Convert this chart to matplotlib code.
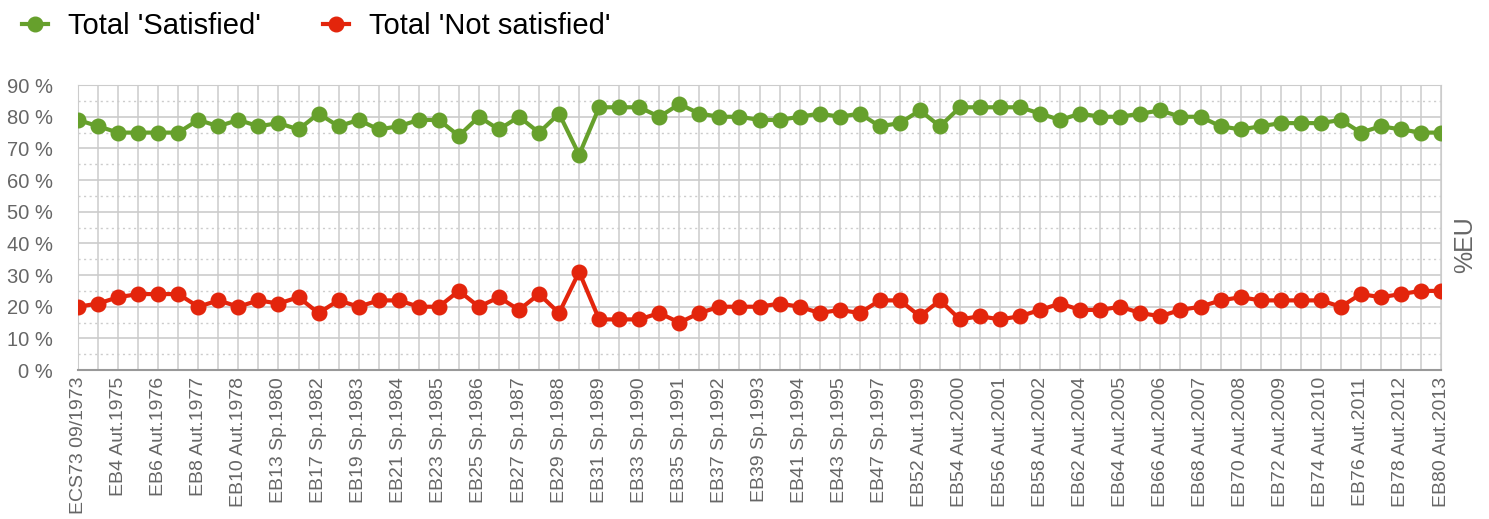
import matplotlib
matplotlib.use("Agg")
import matplotlib.pyplot as plt
from matplotlib.ticker import MultipleLocator, FuncFormatter

plt.rcParams["font.family"] = ["Liberation Sans", "DejaVu Sans"]

# survey waves (labelled every second wave)
wave_labels = [
    "ECS73 09/1973", "EB4 Aut.1975", "EB6 Aut.1976", "EB8 Aut.1977", "EB10 Aut.1978",
    "EB13 Sp.1980", "EB17 Sp.1982", "EB19 Sp.1983", "EB21 Sp.1984", "EB23 Sp.1985",
    "EB25 Sp.1986", "EB27 Sp.1987", "EB29 Sp.1988", "EB31 Sp.1989", "EB33 Sp.1990",
    "EB35 Sp.1991", "EB37 Sp.1992", "EB39 Sp.1993", "EB41 Sp.1994", "EB43 Sp.1995",
    "EB47 Sp.1997", "EB52 Aut.1999", "EB54 Aut.2000", "EB56 Aut.2001", "EB58 Aut.2002",
    "EB62 Aut.2004", "EB64 Aut.2005", "EB66 Aut.2006", "EB68 Aut.2007", "EB70 Aut.2008",
    "EB72 Aut.2009", "EB74 Aut.2010", "EB76 Aut.2011", "EB78 Aut.2012", "EB80 Aut.2013",
]

satisfied = [
    79, 77, 75, 75, 75, 75, 79, 77, 79, 77, 78, 76, 81, 77, 79, 76, 77, 79, 79, 74,
    80, 76, 80, 75, 81, 68, 83, 83, 83, 80, 84, 81, 80, 80, 79, 79, 80, 81, 80, 81,
    77, 78, 82, 77, 83, 83, 83, 83, 81, 79, 81, 80, 80, 81, 82, 80, 80, 77, 76, 77,
    78, 78, 78, 79, 75, 77, 76, 75, 75,
]
not_satisfied = [
    20, 21, 23, 24, 24, 24, 20, 22, 20, 22, 21, 23, 18, 22, 20, 22, 22, 20, 20, 25,
    20, 23, 19, 24, 18, 31, 16, 16, 16, 18, 15, 18, 20, 20, 20, 21, 20, 18, 19, 18,
    22, 22, 17, 22, 16, 17, 16, 17, 19, 21, 19, 19, 20, 18, 17, 19, 20, 22, 23, 22,
    22, 22, 22, 20, 24, 23, 24, 25, 25,
]

green = "#66a02c"
red = "#e3250c"
grey_txt = "#666666"

x = list(range(len(satisfied)))

fig = plt.figure(figsize=(14.89, 5.19), dpi=100)
ax = fig.add_axes([0.0524, 0.287, 0.9154, 0.549])

ax.plot(x, satisfied, color=green, lw=3, marker="o", ms=10.5, label="Total 'Satisfied'", zorder=3)
ax.plot(x, not_satisfied, color=red, lw=3, marker="o", ms=10.5, label="Total 'Not satisfied'", zorder=3)

ax.set_xlim(0, len(x) - 1)
ax.set_ylim(0, 90)

ax.set_xticks(x[::2])
ax.set_xticklabels(wave_labels, rotation=90, fontsize=14, color=grey_txt)
ax.xaxis.set_minor_locator(MultipleLocator(1))
ax.yaxis.set_major_locator(MultipleLocator(10))
ax.yaxis.set_minor_locator(MultipleLocator(5))
ax.yaxis.set_major_formatter(FuncFormatter(lambda v, p: f"{v:.0f} %"))
ax.tick_params(axis="y", labelsize=14.5, labelcolor=grey_txt, length=0, pad=18)
ax.tick_params(axis="x", which="both", length=0, pad=5)
ax.tick_params(axis="y", which="minor", length=0)

ax.grid(True, which="major", axis="y", color="#cccccc", lw=1.2)
ax.grid(True, which="minor", axis="y", color="#cccccc", lw=1, linestyle=(0, (1.5, 2.5)))
ax.grid(True, which="both", axis="x", color="#cccccc", lw=1.1)
ax.set_axisbelow(True)

for side in ["top", "right", "left"]:
    ax.spines[side].set_color("#cccccc")
ax.spines["bottom"].set_color("#999999")
ax.spines["bottom"].set_linewidth(1.5)

fig.text(0.984, 0.528, "%EU", rotation=90, fontsize=18, color=grey_txt, ha="center", va="center")

fig.legend(loc="upper left", bbox_to_anchor=(-0.003, 1.028), ncol=2, frameon=False,
           fontsize=21, handlelength=0.9, columnspacing=2.1, handletextpad=0.7)

fig.savefig("out.png", dpi=100)
